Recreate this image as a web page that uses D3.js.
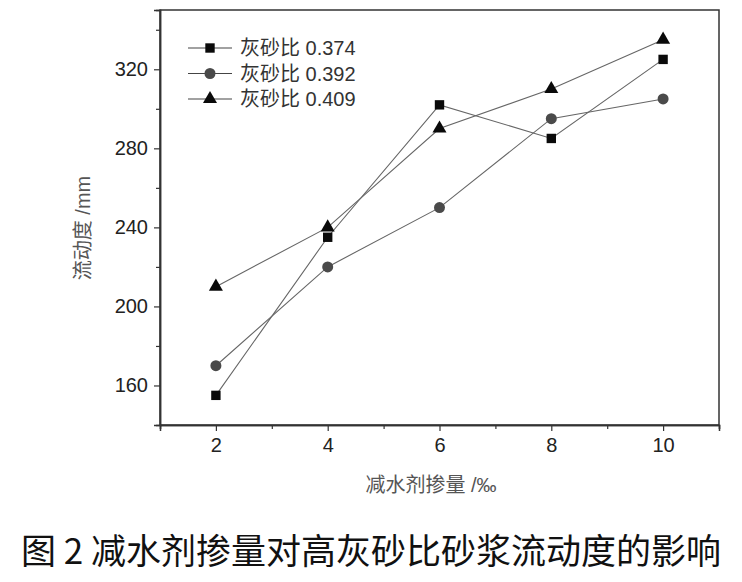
<!DOCTYPE html>
<html><head><meta charset="utf-8">
<script src="https://cdn.jsdelivr.net/npm/d3@7"></script>
<style>body{margin:0;background:#fff}svg{display:block}</style>
</head><body>
<svg id="c" width="742" height="582"></svg>
<script>
const dosages = [2, 4, 6, 8, 10];
const seriesNames = ["灰砂比 0.374", "灰砂比 0.392", "灰砂比 0.409"];
const s0374 = [155, 235, 302, 285, 325];
const s0392 = [170, 220, 250, 295, 305];
const s0409 = [210, 240, 290, 310, 335];
const xTicks = [2, 4, 6, 8, 10];
const yTicks = [160, 200, 240, 280, 320];
const xLabel = "减水剂掺量 /‰";
const yLabel = "流动度 /mm";
const caption = "图 2 减水剂掺量对高灰砂比砂浆流动度的影响";

const series = [
  {name: seriesNames[0], values: s0374, shape: d3.symbolSquare, fill: "#0a0a0a", size: 88},
  {name: seriesNames[1], values: s0392, shape: d3.symbolCircle, fill: "#4a4a4a", size: 95},
  {name: seriesNames[2], values: s0409, shape: d3.symbolTriangle, fill: "#0a0a0a", size: 85}
];

const svg = d3.select("#c");
const L = 160, R = 719, T = 10, B = 425;
const x = d3.scaleLinear().domain([1, 11]).range([L, R]);
const y = d3.scaleLinear().domain([140, 350]).range([B, T]);
const font = "'Liberation Sans', Arial, 'Noto Sans CJK SC', sans-serif";

// frame
svg.append("rect").attr("x", L).attr("y", T).attr("width", R - L).attr("height", B - T)
  .attr("fill", "none").attr("stroke", "#333").attr("stroke-width", 1.5);

// axes
const xAxis = svg.append("g").attr("transform", `translate(0,${B})`)
  .call(d3.axisBottom(x).tickValues(xTicks).tickSize(6).tickPadding(7).tickFormat(d3.format("d")));
const xMinor = svg.append("g").attr("transform", `translate(0,${B})`)
  .call(d3.axisBottom(x).tickValues([1,3,5,7,9,11]).tickSize(4).tickFormat(""));
const yAxis = svg.append("g").attr("transform", `translate(${L},0)`)
  .call(d3.axisLeft(y).tickValues(yTicks).tickSize(6).tickPadding(6).tickFormat(d3.format("d")));
const yMinor = svg.append("g").attr("transform", `translate(${L},0)`)
  .call(d3.axisLeft(y).tickValues([180,220,260,300,340]).tickSize(4).tickFormat(""));
[xAxis, xMinor, yAxis, yMinor].forEach(g => {
  g.attr("font-size", 20).attr("font-family", font);
  g.select(".domain").attr("stroke", "#333").attr("stroke-width", 1.5);
  g.selectAll(".tick line").attr("stroke", "#333").attr("stroke-width", 1.2);
  g.selectAll(".tick text").attr("font-family", font).attr("font-size", 20).attr("fill", "#222");
});

// lines & markers
const line = d3.line().x((d, i) => x(dosages[i])).y(d => y(d));
series.forEach(s => {
  svg.append("path").datum(s.values).attr("d", line)
    .attr("fill", "none").attr("stroke", "#666").attr("stroke-width", 1.1);
});
series.forEach(s => {
  svg.append("g").selectAll("path").data(s.values).join("path")
    .attr("transform", (d, i) => `translate(${x(dosages[i])},${y(d)})`)
    .attr("d", d3.symbol().type(s.shape).size(s.size))
    .attr("fill", s.fill);
});

// legend
const lg = svg.append("g");
series.forEach((s, i) => {
  const yy = 48 + i * 25.5;
  lg.append("line").attr("x1", 188).attr("x2", 232).attr("y1", yy).attr("y2", yy)
    .attr("stroke", "#444").attr("stroke-width", 1.2);
  lg.append("path").attr("transform", `translate(210,${yy})`)
    .attr("d", d3.symbol().type(s.shape).size(s.size)).attr("fill", s.fill);
  lg.append("text").attr("x", 240).attr("y", yy).attr("dy", "0.36em")
    .attr("font-family", font).attr("font-size", 20).attr("fill", "#333").text(s.name);
});

// axis labels
svg.append("text").attr("transform", `translate(83,228) rotate(-90)`)
  .attr("text-anchor", "middle").attr("dy", "0.35em").attr("font-family", font).attr("font-size", 20)
  .attr("fill", "#555").text(yLabel);
svg.append("text").attr("x", 431).attr("y", 492).attr("text-anchor", "middle")
  .attr("font-family", font).attr("font-size", 20).attr("fill", "#555").text(xLabel);

// caption
svg.append("text").attr("x", 371).attr("y", 564).attr("text-anchor", "middle")
  .attr("font-family", "'Noto Sans CJK SC', sans-serif").attr("font-size", 35)
  .attr("fill", "#111").text(caption);
</script>
</body></html>
